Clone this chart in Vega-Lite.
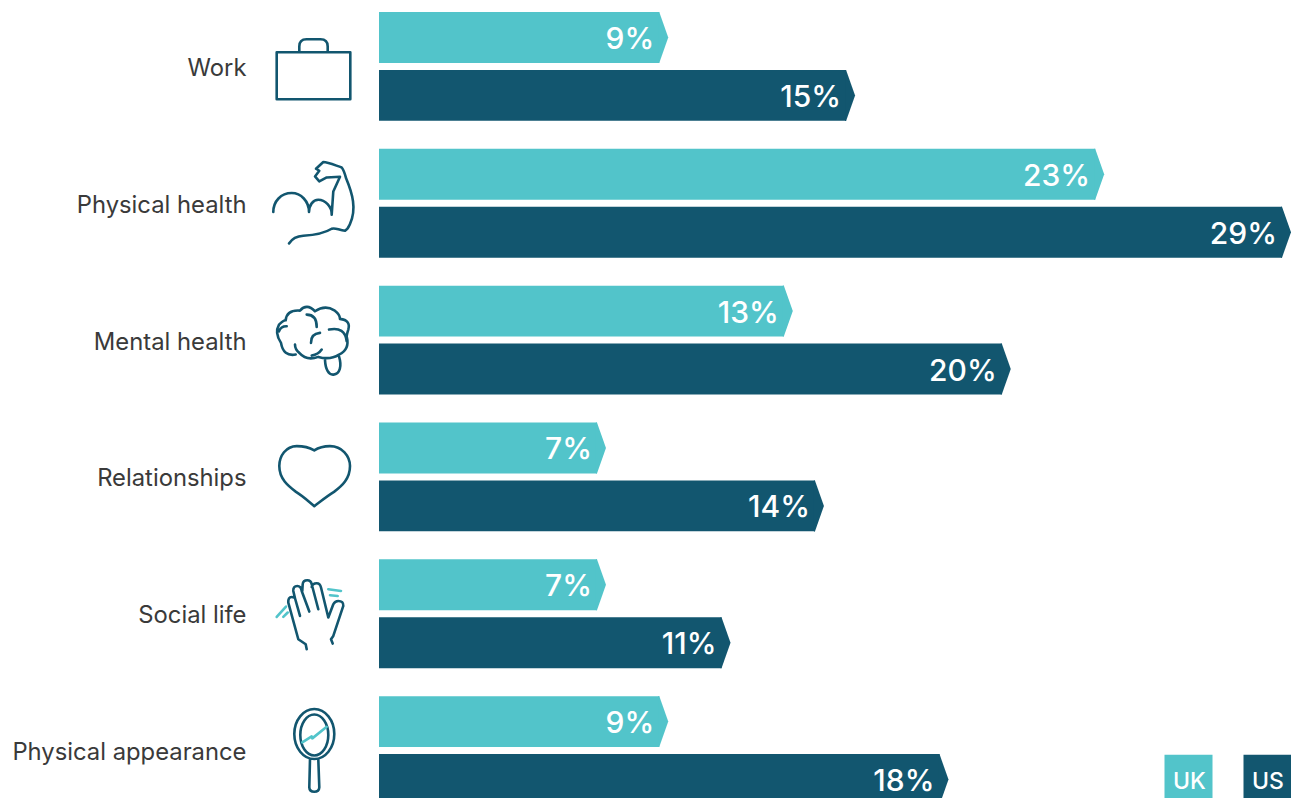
{
  "$schema": "https://vega.github.io/schema/vega-lite/v6.json",
  "autosize": "none",
  "width": 912,
  "height": 786,
  "padding": {"left": 379, "top": 12, "right": 0, "bottom": 0},
  "background": "white",
  "view": {"stroke": null},
  "config": {"font": "Inter"},
  "datasets": {
    "shares": [
      {"topic": "Work", "series": "UK", "share": 9, "label": "9%"},
      {"topic": "Work", "series": "US", "share": 15, "label": "15%"},
      {"topic": "Physical health", "series": "UK", "share": 23, "label": "23%"},
      {"topic": "Physical health", "series": "US", "share": 29, "label": "29%"},
      {"topic": "Mental health", "series": "UK", "share": 13, "label": "13%"},
      {"topic": "Mental health", "series": "US", "share": 20, "label": "20%"},
      {"topic": "Relationships", "series": "UK", "share": 7, "label": "7%"},
      {"topic": "Relationships", "series": "US", "share": 14, "label": "14%"},
      {"topic": "Social life", "series": "UK", "share": 7, "label": "7%"},
      {"topic": "Social life", "series": "US", "share": 11, "label": "11%"},
      {"topic": "Physical appearance", "series": "UK", "share": 9, "label": "9%"},
      {"topic": "Physical appearance", "series": "US", "share": 18, "label": "18%"}
    ],
    "topics": [
      {"topic": "Work"},
      {"topic": "Physical health"},
      {"topic": "Mental health"},
      {"topic": "Relationships"},
      {"topic": "Social life"},
      {"topic": "Physical appearance"}
    ]
  },
  "encoding": {
    "y": {
      "field": "topic",
      "type": "nominal",
      "sort": null,
      "scale": {
        "domain": ["Work", "Physical health", "Mental health", "Relationships", "Social life", "Physical appearance"],
        "range": [0, 793],
        "paddingInner": 0.2044,
        "paddingOuter": 0
      },
      "axis": {
        "title": null,
        "ticks": false,
        "domain": false,
        "grid": false,
        "labelPadding": 133,
        "labelOffset": 2.5,
        "labelFontSize": 23.8,
        "labelFont": "Inter",
        "labelFontWeight": 400,
        "labelColor": "#3a3a3a",
        "labelLimit": 400
      }
    }
  },
  "layer": [
    {
      "data": {"name": "shares"},
      "mark": {"type": "bar"},
      "encoding": {
        "x": {
          "field": "share",
          "type": "quantitative",
          "scale": {"domain": [0, 29], "range": [0, 903], "nice": false, "zero": true},
          "axis": null
        },
        "yOffset": {
          "field": "series",
          "type": "nominal",
          "scale": {"domain": ["UK", "US"], "paddingInner": 0.121, "paddingOuter": 0}
        },
        "color": {
          "field": "series",
          "type": "nominal",
          "scale": {"domain": ["UK", "US"], "range": ["#52c4ca", "#12566f"]},
          "legend": {
            "orient": "none",
            "legendX": 798,
            "legendY": 753,
            "title": null,
            "direction": "horizontal",
            "columns": 2,
            "columnPadding": 30,
            "symbolType": "M-24,-22H24V22H-24Z",
            "symbolSize": 4,
            "symbolStrokeWidth": 0,
            "labelOffset": -27,
            "labelFont": "Inter",
            "labelFontSize": 23,
            "labelFontWeight": 500,
            "labelColor": "white",
            "encode": {"labels": {"update": {"dy": {"value": 5}}}}
          }
        }
      }
    },
    {
      "data": {"name": "shares"},
      "mark": {"type": "point", "filled": true, "size": 4, "opacity": 1, "shape": "M-1,-25.5L0,-25.5L9,0L0,25.5L-1,25.5Z"},
      "encoding": {
        "x": {"field": "share", "type": "quantitative"},
        "yOffset": {"field": "series", "type": "nominal"},
        "color": {"field": "series", "type": "nominal"}
      }
    },
    {
      "data": {"name": "shares"},
      "mark": {"type": "text", "align": "right", "baseline": "middle", "dx": -5, "dy": 2.5, "font": "Inter", "fontSize": 30, "fontWeight": 500, "color": "white"},
      "encoding": {
        "x": {"field": "share", "type": "quantitative"},
        "yOffset": {"field": "series", "type": "nominal"},
        "text": {"field": "label"}
      }
    },
    {
      "data": {"name": "topics"},
      "mark": {"type": "point", "filled": false, "size": 4, "opacity": 1, "xOffset": -66, "stroke": "#12566f", "strokeWidth": 2.6, "strokeCap": "round", "strokeJoin": "round"},
      "encoding": {
        "x": {"datum": 0, "type": "quantitative"},
        "shape": {
          "field": "topic",
          "type": "nominal",
          "legend": null,
          "scale": {
            "domain": ["Work", "Physical health", "Mental health", "Relationships", "Social life", "Physical appearance"],
            "range": [
              "M-36.3,-14.2H37.3V32.8H-36.3Z M-13.7,-14.2V-20Q-13.7,-27.2 -6.5,-27.2H7.5Q14.7,-27.2 14.7,-20V-14.2",
              "M-24,40.2C-20,34 -15,32.8 -9.7,32.5C-2,32 10,31 18.7,25.5C22,24 26,27 32,27.5C35,26 36,23 37,20.8C40,14 41,5 40,-2C39,-10 36,-18 33,-25.2C32,-29 31,-33 28.7,-35.8C22,-38 15,-41 10.3,-41.2L3,-34.5L6.3,-32.5L2,-26.8L6.3,-21.8L13.7,-25.8L27,-26.5L20.3,-11.8L18.7,11.5C19,3 12,-3.5 5.3,-3.5C0,-3.5 -4,2 -4,8.8C-4,-2 -12,-10.2 -21.3,-10.2C-32,-10.2 -39.7,-2 -39.7,8.8",
              "M-17.3,14.5Q-29.7,16.8 -32,2.8Q-38.7,-7.2 -34,-15.5Q-29.7,-19.8 -27.3,-19.8Q-26.3,-30.5 -13,-29.5Q-6.3,-37.2 2,-28.8Q12,-35.5 21.3,-29.8Q27,-25.5 27,-21.2Q38,-19.8 35.3,-10.5Q33.7,-5.5 33.7,-3.5Q37,9.5 26,14.5Q17,20.2 5.3,16.8Q-6.3,21.2 -13.7,12.8Q-18,9.5 -18,4.5 M-34,-8.8Q-32,-14 -26.3,-13.8 M-6.3,-25.5Q3.7,-25.5 3.7,-13.2 M7,-7.2Q-2.3,-6.2 -2,2.8 M8.7,9.5Q5.3,14.5 -1.3,15.5 M16,-10.5Q32,-13.8 33.7,1.2 M12,20C12.5,29 15.5,35 20.5,34.5C27,34 29,26 26,16.2",
              "M1.3,-26.5C-3,-29 -9,-30.8 -16.3,-30.8C-27,-30.8 -33.7,-21 -33.7,-10.8C-33.7,2 -25,9 -17,15C-9,20 -4,25 1.3,29.2C7,25 13,20 21,15C29,9 37,2 37,-10.8C37,-21 29,-30.8 17,-30.8C10,-30.8 5,-29 1.3,-26.5Z",
              "M-6.3,35.5L-7.3,30.5L-14.7,25.5L-24.7,-11.2Q-25,-16.8 -21.3,-16.8Q-18.5,-16.8 -18,-15.5L-13,2.2 M-18,-15.5L-19.7,-22.8Q-20,-27.8 -15.7,-27.8Q-12,-27.8 -11.3,-22.8L-3.7,-2.2 M-10.7,-22.8L-10.3,-29.5Q-10,-33.5 -5.7,-33.5Q-2,-33.5 -1.3,-29.5L5.3,-4.5 M-1.3,-26.8Q-0.5,-30.5 3.7,-30.5Q7,-30.5 8,-26.2L15.3,3.8L20.3,-9.5Q22,-12.8 25.3,-12.8Q30.5,-12.8 30.3,-7.8L20.3,22.2L18,25.5L19.7,29.8",
              "M-18.7,-16.5C-18.7,-30.3 -9.7,-41.5 1.3,-41.5C12.3,-41.5 21.3,-30.3 21.3,-16.5C21.3,-2.7 12.3,8.5 1.3,8.5C-9.7,8.5 -18.7,-2.7 -18.7,-16.5Z M-12.7,-15.5C-12.7,-26.8 -6.4,-36 1.3,-36C9,-36 15.3,-26.8 15.3,-15.5C15.3,-4.2 9,5 1.3,5C-6.4,5 -12.7,-4.2 -12.7,-15.5Z M-3,8.5L-3.7,36.8Q-3.5,41.2 1.3,41.2Q6,41.2 6.3,36.8L5.3,8.5"
            ]
          }
        }
      }
    },
    {
      "data": {"name": "topics"},
      "transform": [{"filter": "datum.topic === 'Social life' || datum.topic === 'Physical appearance'"}],
      "mark": {"type": "point", "filled": false, "size": 4, "opacity": 1, "xOffset": -66, "stroke": "#52c4ca", "strokeWidth": 2.6, "strokeCap": "round", "strokeJoin": "round"},
      "encoding": {
        "x": {"datum": 0, "type": "quantitative"},
        "shape": {
          "field": "topic",
          "type": "nominal",
          "legend": null,
          "scale": {
            "domain": ["Social life", "Physical appearance"],
            "range": [
              "M15.3,-24.5L28,-22.8 M17,-18.5L24.7,-17.8 M-27,-7.2L-36.3,3.2 M-25.3,-1.2L-29.7,3.2",
              "M-10.7,-8.2L-1.3,-14.2L-0.7,-12.2L13.7,-23.8"
            ]
          }
        }
      }
    }
  ],
  "resolve": {"scale": {"shape": "independent"}}
}
